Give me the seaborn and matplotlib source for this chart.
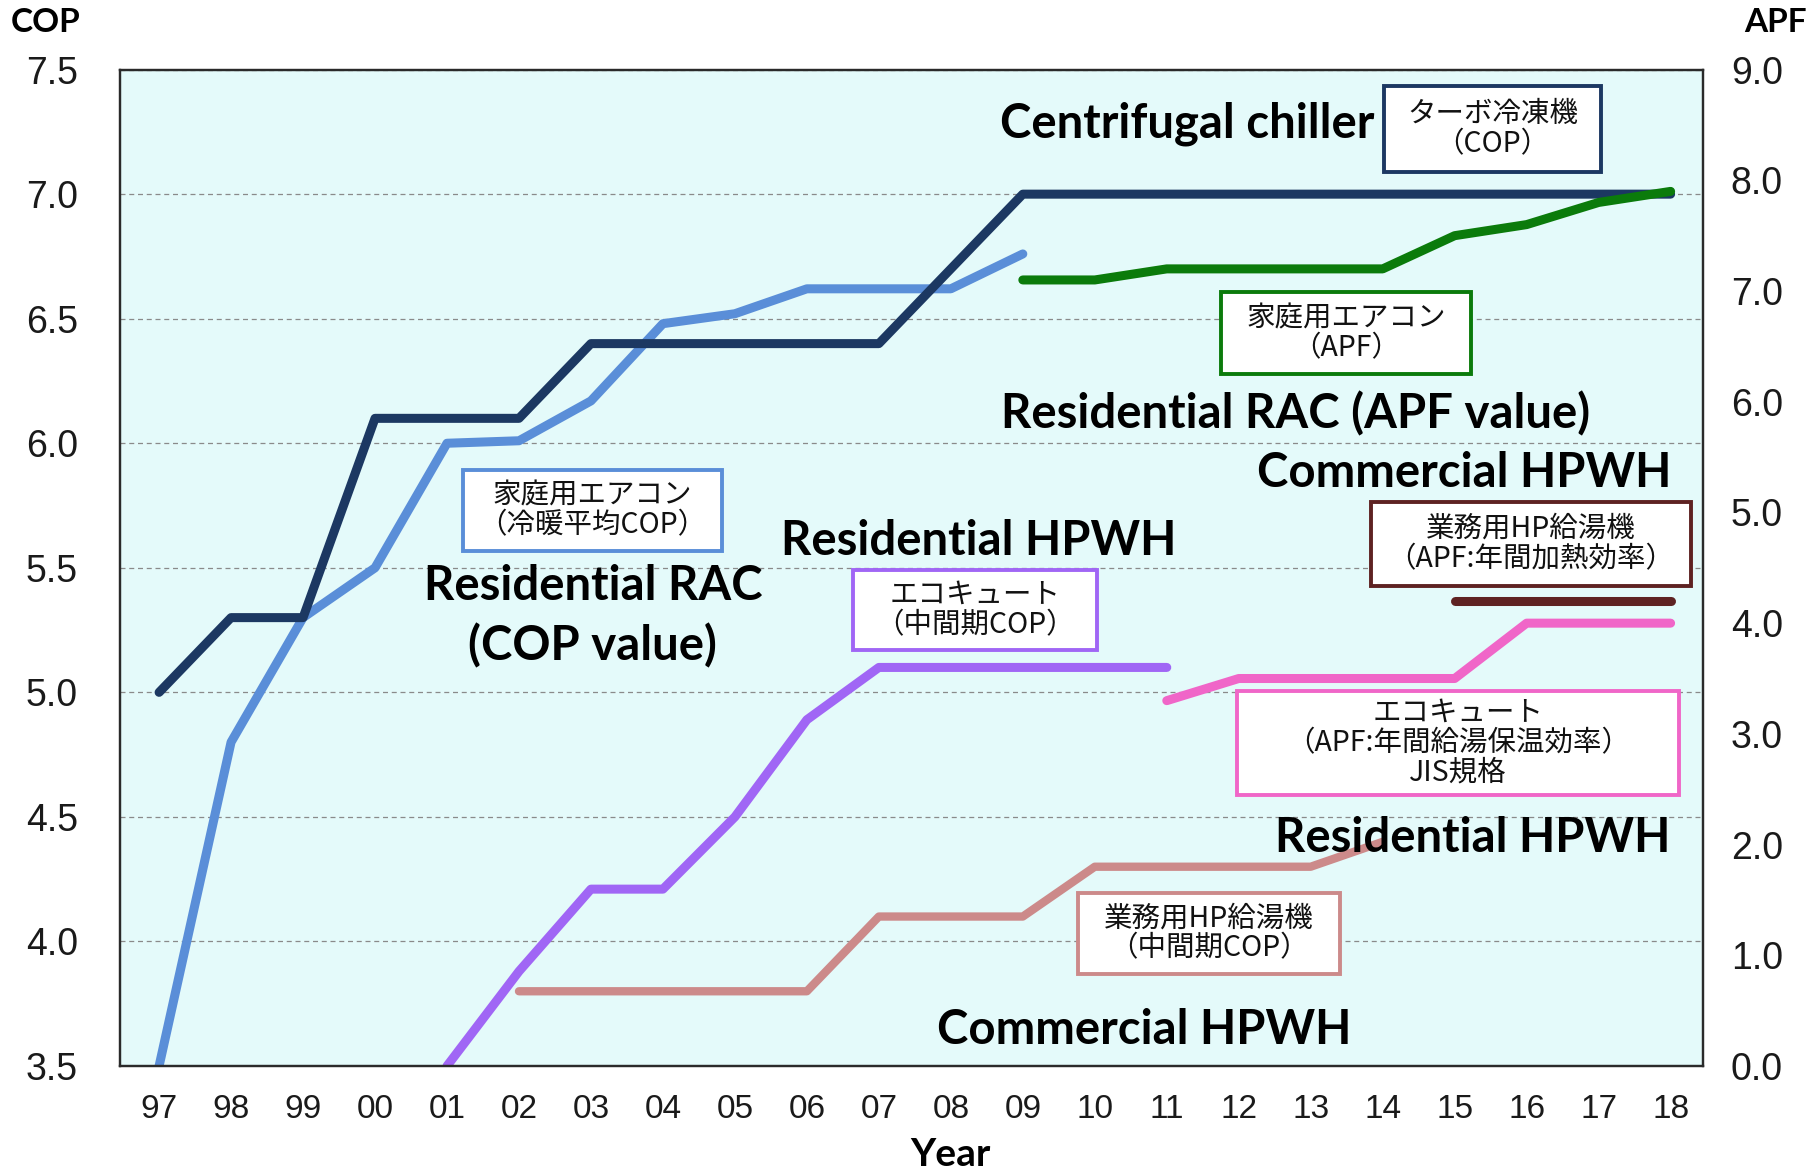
import numpy as np
import matplotlib
matplotlib.use("Agg")
import matplotlib.pyplot as plt
import seaborn as sns
from matplotlib.patches import Rectangle

nan = np.nan
years = ["97", "98", "99", "00", "01", "02", "03", "04", "05", "06", "07",
         "08", "09", "10", "11", "12", "13", "14", "15", "16", "17", "18"]

# left axis (COP)
chiller_cop = [5.0, 5.3, 5.3, 6.1, 6.1, 6.1, 6.4, 6.4, 6.4, 6.4, 6.4,
               6.7, 7.0, 7.0, 7.0, 7.0, 7.0, 7.0, 7.0, 7.0, 7.0, 7.0]
rac_cop = [3.5, 4.8, 5.3, 5.5, 6.0, 6.01, 6.17, 6.48, 6.52, 6.62, 6.62,
           6.62, 6.76] + [nan] * 9
hpwh_res_cop = [nan] * 4 + [3.5, 3.88, 4.21, 4.21, 4.5, 4.89, 5.1,
                            5.1, 5.1, 5.1, 5.1] + [nan] * 7
hpwh_com_cop = [nan] * 5 + [3.8, 3.8, 3.8, 3.8, 3.8, 4.1, 4.1, 4.1,
                            4.3, 4.3, 4.3, 4.3, 4.4] + [nan] * 4
# right axis (APF)
rac_apf = [nan] * 12 + [7.1, 7.1, 7.2, 7.2, 7.2, 7.2, 7.5, 7.6, 7.8, 7.9]
hpwh_res_apf = [nan] * 14 + [3.3, 3.5, 3.5, 3.5, 3.5, 4.0, 4.0, 4.0]
hpwh_com_apf = [nan] * 18 + [4.2, 4.2, 4.2, 4.2]

cop_ticks = [3.5, 4.0, 4.5, 5.0, 5.5, 6.0, 6.5, 7.0, 7.5]
apf_ticks = [0.0, 1.0, 2.0, 3.0, 4.0, 5.0, 6.0, 7.0, 8.0, 9.0]

sns.set_style("white")
plt.rcParams['font.family'] = ['Liberation Sans Narrow', 'Liberation Sans', 'DejaVu Sans']

W, H = 1819, 1175
fig = plt.figure(figsize=(W / 100, H / 100), dpi=100)
ax = fig.add_axes([119.5 / W, 1 - 1066 / H, (1703 - 119.5) / W, (1066 - 69.6) / H])
ax.set_facecolor('#E4FAFA')
ax2 = ax.twinx()

x = np.arange(len(years))
line_kw = dict(solid_capstyle='round', solid_joinstyle='round')

sns.lineplot(x=x, y=rac_cop, ax=ax, color='#5A8ED8', lw=6.5, **line_kw)
sns.lineplot(x=x, y=chiller_cop, ax=ax, color='#1C3862', lw=6.5, **line_kw)
sns.lineplot(x=x, y=hpwh_res_cop, ax=ax, color='#A066F5', lw=6.5, **line_kw)
sns.lineplot(x=x, y=hpwh_com_cop, ax=ax, color='#CC8A8A', lw=6, **line_kw)

sns.lineplot(x=x, y=rac_apf, ax=ax2, color='#0B7B0B', lw=6.5, **line_kw)
sns.lineplot(x=x, y=hpwh_res_apf, ax=ax2, color='#F066C8', lw=6.5, **line_kw)
sns.lineplot(x=x, y=hpwh_com_apf, ax=ax2, color='#5E2222', lw=6.5, **line_kw)

ax.set_xlim(-0.55, 21.45)
ax.set_ylim(3.5, 7.5)
ax2.set_ylim(0, 9)
ax.set_xticks(x)
ax.set_xticklabels(years)
ax.set_yticks(cop_ticks)
ax.set_yticklabels([f"{v:.1f}" for v in cop_ticks])
ax2.set_yticks(apf_ticks)
ax2.set_yticklabels([f"{v:.1f}" for v in apf_ticks])

ax.yaxis.grid(True, linestyle=(0, (4, 3)), color='#8A8A8A', lw=0.9)
ax.xaxis.grid(False)
ax2.grid(False)
ax.tick_params(axis='y', length=0, pad=30, labelsize=27, labelcolor='#1a1a1a')
ax.tick_params(axis='x', length=0, pad=20, labelsize=24, labelcolor='#1a1a1a')
ax2.tick_params(axis='y', length=0, pad=20, labelsize=27, labelcolor='#1a1a1a')
for a in (ax, ax2):
    for s in a.spines.values():
        s.set_color('#2a2a2a')
        s.set_linewidth(1.6)
        s.set_visible(True)
ax.set_xlabel('')
ax.set_ylabel('')
ax2.set_ylabel('')

def fx(px):
    return px / W

def fy(py):
    return 1 - py / H

bold = dict(family=['Lato', 'DejaVu Sans'], weight='bold', color='black')
jp = dict(family=['Noto Sans CJK JP', 'DejaVu Sans'], color='#111111')

fig.text(fx(46), fy(23), 'COP', ha='center', va='center', fontsize=24, **bold)
fig.text(fx(1775), fy(23), 'APF', ha='center', va='center', fontsize=24, **bold)
fig.text(fx(950), fy(1154), 'Year', ha='center', va='center', fontsize=28, **bold)

labels = [
    (1187, 124, 'Centrifugal chiller'),
    (1296, 414, 'Residential RAC (APF value)'),
    (1464, 473, 'Commercial HPWH'),
    (979, 541, 'Residential HPWH'),
    (593, 586, 'Residential RAC'),
    (592, 646, '(COP value)'),
    (1473, 838, 'Residential HPWH'),
    (1144, 1030, 'Commercial HPWH'),
]
for px, py, t in labels:
    fig.text(fx(px), fy(py), t, ha='center', va='center', fontsize=34, zorder=6, **bold)

boxes = [
    ((1384, 1601, 86, 172), '#1C3862', 'ターボ冷凍機\n（COP）'),
    ((1221, 1471, 292, 374), '#0B7B0B', '家庭用エアコン\n（APF）'),
    ((463, 722, 470, 551), '#5A8ED8', '家庭用エアコン\n（冷暖平均COP）'),
    ((853, 1097, 570, 650), '#A066F5', 'エコキュート\n（中間期COP）'),
    ((1371, 1691, 502, 586), '#5E2222', '業務用HP給湯機\n（APF:年間加熱効率）'),
    ((1237, 1679, 691, 795), '#F066C8', 'エコキュート\n（APF:年間給湯保温効率）\nJIS規格'),
    ((1078, 1340, 893, 974), '#CC8A8A', '業務用HP給湯機\n（中間期COP）'),
]
for (x0, x1, y0, y1), col, t in boxes:
    fig.add_artist(Rectangle((fx(x0), fy(y1)), fx(x1) - fx(x0), fy(y0) - fy(y1),
                             transform=fig.transFigure, facecolor='white',
                             edgecolor=col, lw=2.8, zorder=5))
    fig.text(fx((x0 + x1) / 2), fy((y0 + y1) / 2), t, ha='center', va='center',
             fontsize=20.5, linespacing=1.0, zorder=7, **jp)

fig.savefig('out.png', dpi=100)
